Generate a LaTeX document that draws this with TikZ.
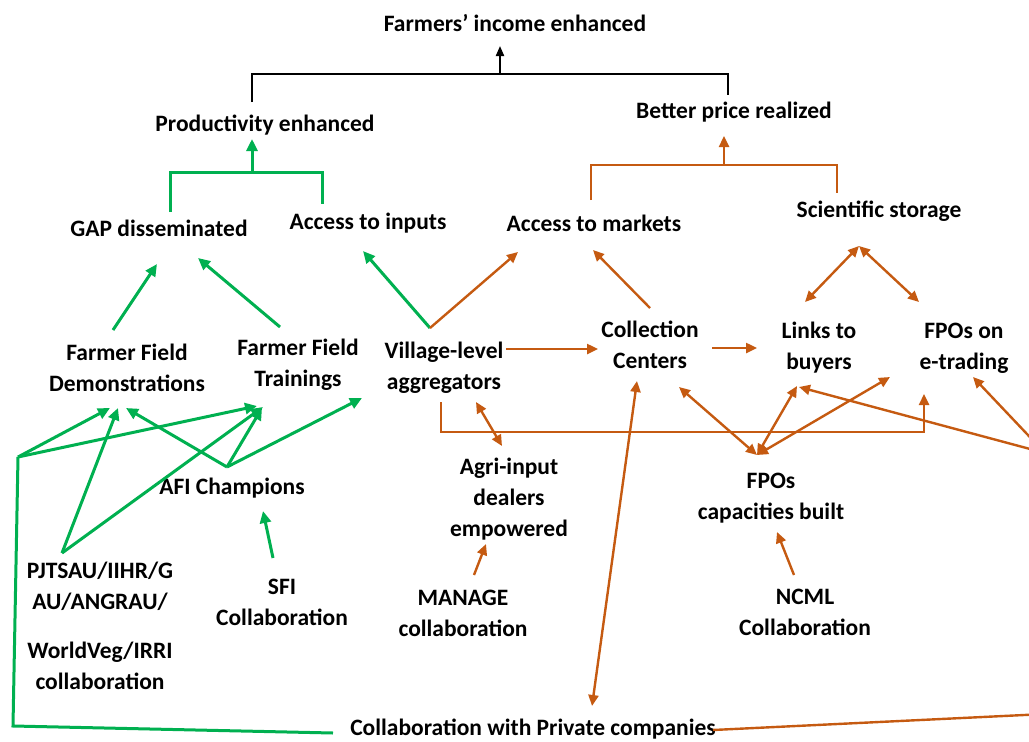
\documentclass[tikz,border=0pt]{standalone}
\usepackage{fontspec}
\setmainfont{Carlito}
\usetikzlibrary{arrows.meta}
\definecolor{gr}{HTML}{00B050}
\definecolor{org}{HTML}{C55A11}
\tikzset{
  lbl/.style={font=\bfseries\fontsize{23.5}{31}\selectfont, align=center, inner sep=0pt, text=black},
  gline/.style={draw=gr, line width=3pt},
  oline/.style={draw=org, line width=2.4pt},
  bline/.style={draw=black, line width=2pt},
  tipg/.style={-{Triangle[length=12pt,width=11pt]}},
  tipo/.style={-{Triangle[length=11pt,width=10pt]}},
  tipb/.style={-{Triangle[length=10pt,width=8pt]}},
  dtipo/.style={{Triangle[length=11pt,width=10pt]}-{Triangle[length=11pt,width=10pt]}},
}
\begin{document}
\begin{tikzpicture}[x=1pt,y=-1pt]
\useasboundingbox (0,0) rectangle (1029,742);
\clip (0,0) rectangle (1029,742);

% ---------- nodes ----------
\node[lbl] (fie) at (515,23) {Farmers’ income enhanced};
\node[lbl] (pe)  at (265,125) {Productivity enhanced};
\node[lbl] (bpr) at (734,112) {Better price realized};
\node[lbl] (gap) at (159,228) {GAP disseminated};
\node[lbl] (ati) at (368,223) {Access to inputs};
\node[lbl] (atm) at (594,223) {Access to markets};
\node[lbl] (ss)  at (879,211) {Scientific storage};
\node[lbl] (ffd) at (127,368) {Farmer Field\\Demonstrations};
\node[lbl] (fft) at (298,365) {Farmer Field\\Trainings};
\node[lbl] (vla) at (444,368) {Village-level\\aggregators};
\node[lbl] (cc)  at (650,345) {Collection\\Centers};
\node[lbl] (ltb) at (819,348) {Links to\\buyers};
\node[lbl] (fet) at (964,348) {FPOs on\\e-trading};
\node[lbl] (afi) at (232,488) {AFI Champions};
\node[lbl] (aid) at (509,499) {Agri-input\\dealers\\empowered};
\node[lbl] (fcb) at (771,498) {FPOs\\capacities built};
\node[lbl] (pjt) at (100,586) {PJTSAU/IIHR/G\\AU/ANGRAU/};
\node[lbl] (wv)  at (100,666) {WorldVeg/IRRI\\collaboration};
\node[lbl] (sfi) at (282,602) {SFI\\Collaboration};
\node[lbl] (man) at (463,613) {MANAGE\\collaboration};
\node[lbl] (ncm) at (805,612) {NCML\\Collaboration};
\node[lbl] (pvt) at (533,729) {Collaboration with Private companies};

% ---------- coordinates ----------
\coordinate (b1) at (252,102); \coordinate (b2) at (728,95); \coordinate (bm) at (500,74); \coordinate (bt) at (500,46);
\coordinate (g1) at (170,212); \coordinate (g2) at (322,204); \coordinate (gm) at (252,172); \coordinate (gt) at (252,139);
\coordinate (o1) at (591,200); \coordinate (o2) at (837,193); \coordinate (om) at (724,165); \coordinate (ot) at (724,136);
\coordinate (vtop) at (430,328);
\coordinate (hub) at (757,455);
\coordinate (peak) at (859,246);
\coordinate (redge) at (1045,453);
\coordinate (gc) at (18,457);
\coordinate (gb) at (13,726);
\coordinate (pj) at (62,553);
\coordinate (af) at (227,467);
\coordinate (pw) at (333,733);
\coordinate (pe2) at (713,730);

% ---------- black ----------
\draw[bline] (b1) -- (252,74) -- (728,74) -- (b2);
\draw[bline,tipb] (bm) -- (bt);

% ---------- green ----------
\draw[gline] (g1) -- (170,172) -- (322,172) -- (g2);
\draw[gline,tipg] (gm) -- (gt);
\draw[gline,tipg] (113,330) -- (157,264);
\draw[gline,tipg] (280,327) -- (198,258);
\draw[gline,tipg] (vtop) -- (363,251);
\draw[gline] (pw) -- (gb) -- (gc);
\draw[gline,tipg] (gc) -- (110,408);
\draw[gline,tipg] (gc) -- (257,406);
\draw[gline,tipg] (pj) -- (118,408);
\draw[gline,tipg] (pj) -- (263,407);
\draw[gline,tipg] (af) -- (126,408);
\draw[gline,tipg] (af) -- (262,408);
\draw[gline,tipg] (af) -- (362,398);
\draw[gline,tipg] (273,558) -- (263,511);

% ---------- orange ----------
\draw[oline] (o1) -- (591,165) -- (837,165) -- (o2);
\draw[oline,tipo] (om) -- (ot);
\draw[oline,tipo] (vtop) -- (518,252);
\draw[oline,tipo] (650,308) -- (593,250);
\draw[oline,dtipo] (805,302) -- (peak);
\draw[oline,dtipo] (peak) -- (919,302);
\draw[oline,tipo] (506,349) -- (598,349);
\draw[oline,tipo] (712,348) -- (757,348);
\draw[oline,tipo] (441,402) -- (441,432) -- (924,432) -- (924,394);
\draw[oline,dtipo] (476,402) -- (502,446);
\draw[oline,dtipo] (592,706) -- (637,381);
\draw[oline,dtipo] (hub) -- (679,387);
\draw[oline,dtipo] (hub) -- (797,386);
\draw[oline,dtipo] (hub) -- (890,377);
\draw[oline,tipo] (redge) -- (799,387);
\draw[oline,tipo] (redge) -- (973,377);
\draw[oline] (pe2) -- (1045,714);
\draw[oline,tipo] (474,575) -- (486,544);
\draw[oline,tipo] (794,575) -- (777,532);
\end{tikzpicture}
\end{document}
